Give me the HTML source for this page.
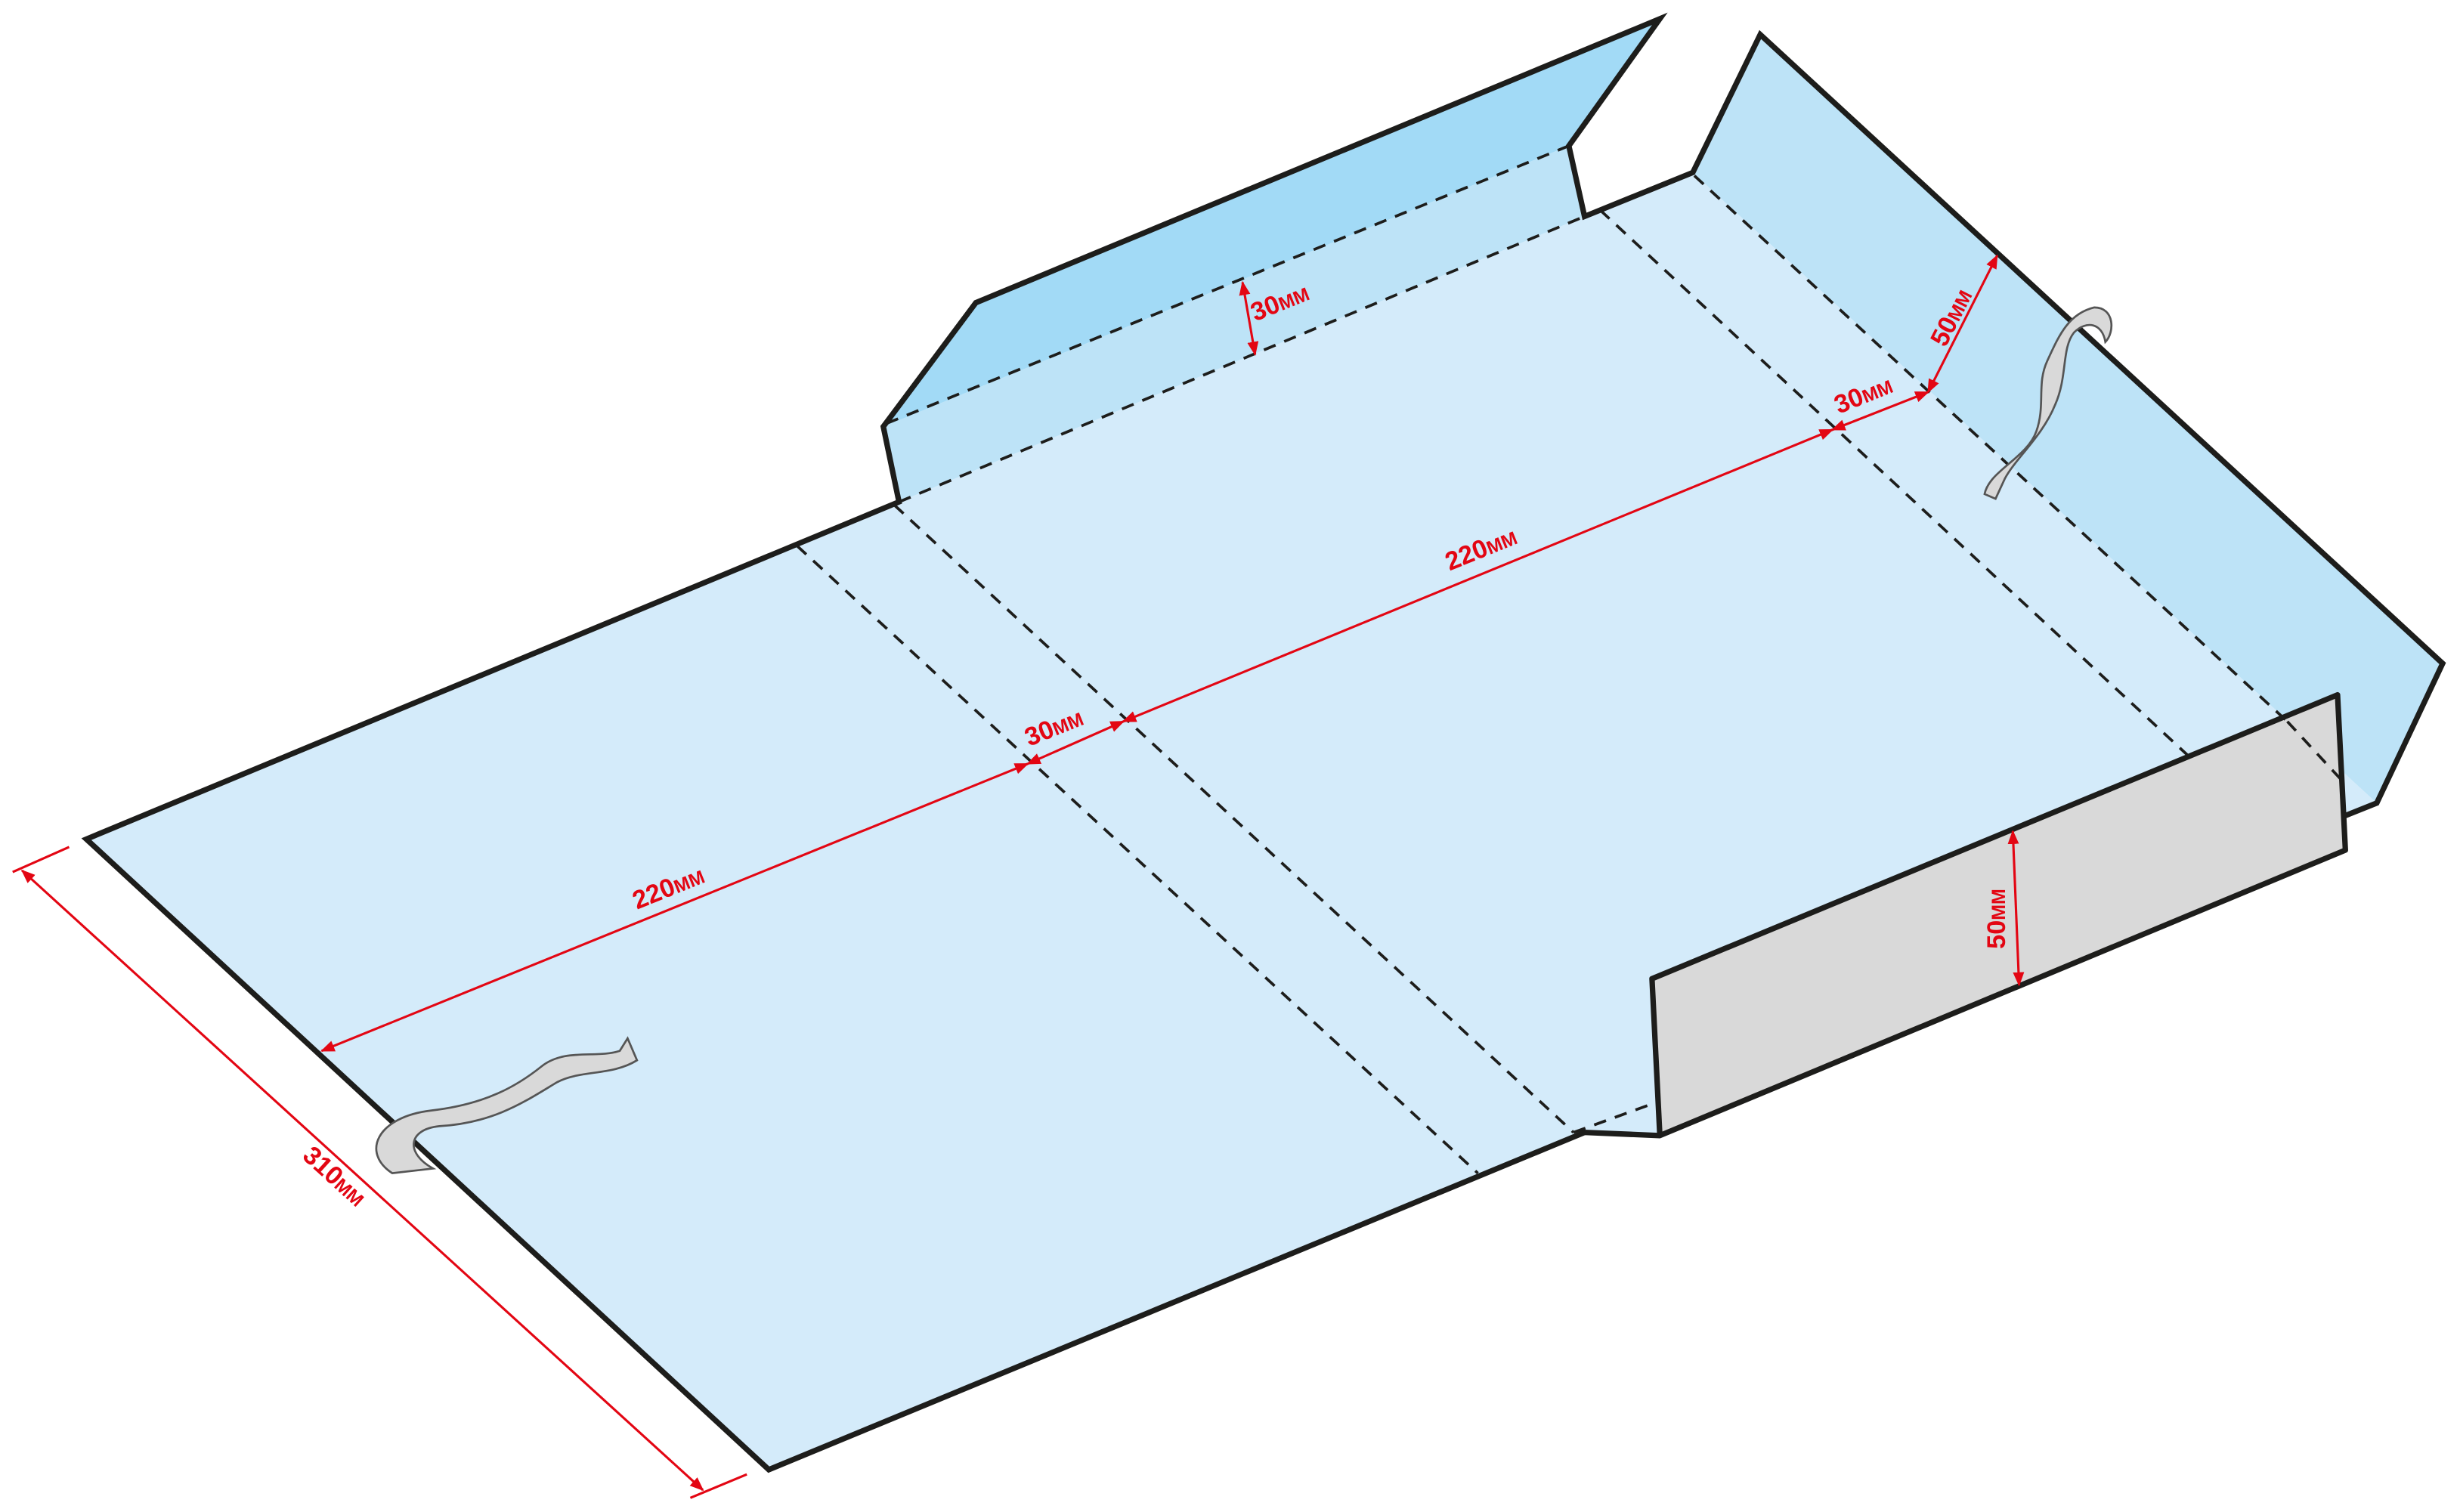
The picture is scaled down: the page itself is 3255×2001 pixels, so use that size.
<!DOCTYPE html>
<html><head><meta charset="utf-8"><style>html,body{margin:0;padding:0;background:#fff}svg{display:block}</style></head><body>
<svg width="3255" height="2001" viewBox="0 0 1568 964" xmlns="http://www.w3.org/2000/svg">
<defs>
<marker id="a" viewBox="0 0 10 10" refX="9" refY="5" markerWidth="6" markerHeight="6" orient="auto-start-reverse"><path d="M0,1 L10,5 L0,9 z" fill="#e30613"/></marker>
</defs>
<polygon points="55,535 573,320 1010,138 1079,110 1515,512 1495,520 1058,724 1010,722 490,937" fill="#d4ebfa"/>
<polygon points="1079,110 1122,22 1557,423 1515,512" fill="#bde3f7"/>
<polygon points="573,320 563,272 1000,93 1010,138" fill="#bde3f7"/>
<polygon points="563,272 622,193 1058,12 1000,93" fill="#a2daf6"/>
<polygon points="1053,624 1490,443 1495,542 1058,724" fill="#d9d9d9" stroke="#1d1d1b" stroke-width="3.5" stroke-linejoin="round"/>
<polyline points="1058,724 1010,722 490,937 55,535 573,320 563,272 622,193 1058,12 1000,93 1010,138 1079,110 1122,22 1557,423 1515,512 1495,520" fill="none" stroke="#1d1d1b" stroke-width="3.5" stroke-linejoin="miter"/>
<g stroke="#1d1d1b" stroke-width="1.8" stroke-dasharray="8,6" fill="none">
<line x1="565" y1="270" x2="1000" y2="93"/>
<line x1="573" y1="320" x2="1010" y2="138"/>
<line x1="508" y1="348" x2="942" y2="748"/>
<line x1="570" y1="322" x2="1003" y2="722"/>
<line x1="1020" y1="134" x2="1395" y2="482"/>
<line x1="1080" y1="112" x2="1458" y2="460"/>
<line x1="1003" y1="722" x2="1058" y2="702"/>
<line x1="1458" y1="460" x2="1495" y2="500"/>
</g>
<g fill="#d9d9d9" stroke="#555" stroke-width="1.3">
<path d="M250,748 C230,735 240,712 275,708 C310,704 330,692 345,680 C360,668 380,675 395,670 L400,662 L406,676 C390,686 370,682 355,690 C335,702 315,716 280,718 C260,720 258,735 276,745 Z"/>
<path d="M1265,315 C1268,300 1292,292 1298,275 C1304,258 1298,245 1305,230 C1312,215 1318,200 1335,196 C1348,196 1348,212 1342,218 C1340,206 1330,204 1322,212 C1314,222 1318,240 1310,258 C1302,278 1285,292 1278,305 L1272,318 Z"/>
</g>
<g stroke="#e30613" stroke-width="1.5" fill="none">
<line x1="14" y1="555" x2="448" y2="950" marker-start="url(#a)" marker-end="url(#a)"/>
<line x1="8" y1="556" x2="44" y2="540"/>
<line x1="440" y1="955" x2="476" y2="940"/>
<line x1="205" y1="670" x2="655" y2="487" marker-start="url(#a)" marker-end="url(#a)"/>
<line x1="655" y1="487" x2="716" y2="460" marker-start="url(#a)" marker-end="url(#a)"/>
<line x1="716" y1="460" x2="1168" y2="274" marker-start="url(#a)" marker-end="url(#a)"/>
<line x1="1168" y1="274" x2="1229" y2="250" marker-start="url(#a)" marker-end="url(#a)"/>
<line x1="1229" y1="250" x2="1273" y2="163" marker-start="url(#a)" marker-end="url(#a)"/>
<line x1="792" y1="180" x2="800" y2="226" marker-start="url(#a)" marker-end="url(#a)"/>
<line x1="1283" y1="530" x2="1287" y2="628" marker-start="url(#a)" marker-end="url(#a)"/>
</g>
<g fill="#e30613" font-family="Liberation Sans, sans-serif" font-weight="bold" font-size="16.5">
<text transform="translate(192,738) rotate(42.3)">310<tspan font-size="12">ММ</tspan></text>
<text transform="translate(406,580) rotate(-22)">220<tspan font-size="12">ММ</tspan></text>
<text transform="translate(656,476) rotate(-22)">30<tspan font-size="12">ММ</tspan></text>
<text transform="translate(924,364) rotate(-22)">220<tspan font-size="12">ММ</tspan></text>
<text transform="translate(1172,264) rotate(-22)">30<tspan font-size="12">ММ</tspan></text>
<text transform="translate(800,205) rotate(-22)">30<tspan font-size="12">ММ</tspan></text>
<text transform="translate(1240,222) rotate(-63)">50<tspan font-size="12">ММ</tspan></text>
<text transform="translate(1278,605) rotate(-90)">50<tspan font-size="12">ММ</tspan></text>
</g>
</svg>
</body></html>
